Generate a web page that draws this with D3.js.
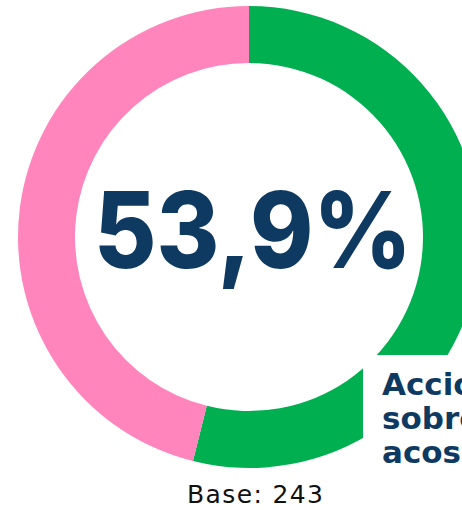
<!DOCTYPE html>
<html>
<head>
<meta charset="utf-8">
<script src="https://cdn.jsdelivr.net/npm/d3@7"></script>
<style>
  body { margin: 0; background: #fff; }
  svg { display: block; }
</style>
</head>
<body>
<div id="chart"></div>
<script>
var categories = ['Sí', 'No']
var values = [53.9, 46.1]
var colors = ['#00af50', '#ff85bc']
var centerLabel = '53,9%'
var baseLabel = 'Base: 243'
var titleLines = ['Acciones', 'sobre', 'acoso']

var width = 462, height = 510;
var cx = 249, cy = 237;
var outerR = 231, innerR = 174;

var svg = d3.select('#chart')
    .append('svg')
    .attr('width', width)
    .attr('height', height);

var color = d3.scaleOrdinal()
    .domain(categories)
    .range(colors);

var pie = d3.pie()
    .sort(null)
    .value(function(d) { return d.value; });

var arc = d3.arc()
    .innerRadius(innerR)
    .outerRadius(outerR);

var data = categories.map(function(c, i) { return {cat: c, value: values[i]}; });

var g = svg.append('g')
    .attr('transform', 'translate(' + cx + ',' + cy + ')');

g.selectAll('path')
    .data(pie(data))
    .enter()
    .append('path')
    .attr('d', arc)
    .attr('fill', function(d) { return color(d.data.cat); });

// big number in the middle, stretched a bit to get the taller look of the original
var bigG = g.append('g')
    .attr('transform', 'translate(4,31) scale(1,1.1)');
var big = bigG.append('text')
    .attr('text-anchor', 'middle')
    .style('font-family', 'Inter, "Noto Sans", sans-serif')
    .style('font-weight', 800)
    .style('font-size', '104px')
    .style('fill', '#0e3a62')
    .text(centerLabel);

// fit to the width in the picture
var w = big.node().getComputedTextLength();
big.style('font-size', (104 * 318 / w) + 'px');

svg.append('text')
    .attr('x', 187)
    .attr('y', 503)
    .attr('textLength', 136)
    .attr('lengthAdjust', 'spacing')
    .style('font-family', '"DejaVu Sans", sans-serif')
    .style('font-size', '25px')
    .style('fill', '#111')
    .text(baseLabel);

// white box with the (cut off) title
svg.append('rect')
    .attr('x', 363)
    .attr('y', 355)
    .attr('width', width - 363)
    .attr('height', height - 355)
    .attr('fill', '#fff');

svg.selectAll('.title')
    .data(titleLines)
    .enter()
    .append('text')
    .attr('class', 'title')
    .attr('x', 382)
    .attr('y', function(d, i) { return 395 + i * 34; })
    .style('font-family', '"DejaVu Sans", sans-serif')
    .style('font-weight', 700)
    .style('font-size', '31px')
    .style('fill', '#0e3a62')
    .text(function(d) { return d; });
</script>
</body>
</html>
